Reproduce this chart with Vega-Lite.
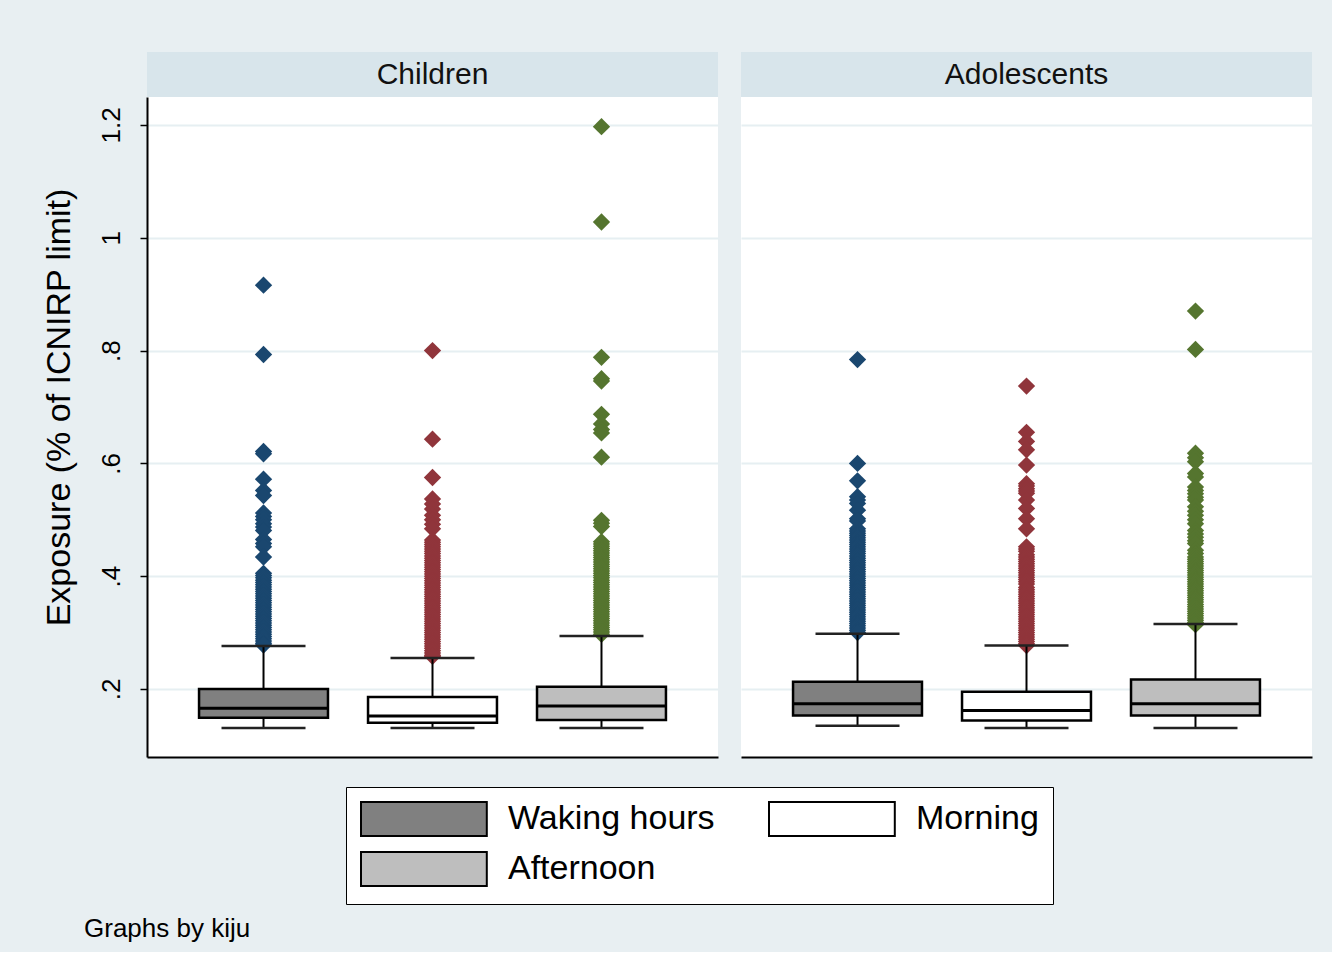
{
  "$schema": "https://vega.github.io/schema/vega-lite/v6.json",
  "background": "#e8eff2",
  "padding": {"left": 42, "top": 52, "right": 20, "bottom": 10},
  "title": {"text": "Graphs by kiju", "orient": "bottom", "anchor": "start", "fontSize": 26, "fontWeight": "normal", "font": "Liberation Sans", "color": "black", "offset": 11, "dx": 42},
  "datasets": {
    "panels": [{"panel": "Children"}, {"panel": "Adolescents"}],
    "stats": [
      {"panel": "Children", "group": "Waking hours", "lo": 0.131, "q1": 0.149, "median": 0.166, "q3": 0.200, "hi": 0.276},
      {"panel": "Children", "group": "Morning", "lo": 0.131, "q1": 0.140, "median": 0.152, "q3": 0.186, "hi": 0.255},
      {"panel": "Children", "group": "Afternoon", "lo": 0.131, "q1": 0.145, "median": 0.170, "q3": 0.204, "hi": 0.294},
      {"panel": "Adolescents", "group": "Waking hours", "lo": 0.135, "q1": 0.153, "median": 0.174, "q3": 0.213, "hi": 0.298},
      {"panel": "Adolescents", "group": "Morning", "lo": 0.131, "q1": 0.144, "median": 0.162, "q3": 0.195, "hi": 0.277},
      {"panel": "Adolescents", "group": "Afternoon", "lo": 0.131, "q1": 0.153, "median": 0.174, "q3": 0.217, "hi": 0.315}
    ],
    "outliers": [
      {"panel": "Children", "group": "Waking hours", "value": 0.916},
      {"panel": "Children", "group": "Waking hours", "value": 0.793},
      {"panel": "Children", "group": "Waking hours", "value": 0.621},
      {"panel": "Children", "group": "Waking hours", "value": 0.617},
      {"panel": "Children", "group": "Waking hours", "value": 0.572},
      {"panel": "Children", "group": "Waking hours", "value": 0.552},
      {"panel": "Children", "group": "Waking hours", "value": 0.543},
      {"panel": "Children", "group": "Waking hours", "value": 0.512},
      {"panel": "Children", "group": "Waking hours", "value": 0.506},
      {"panel": "Children", "group": "Waking hours", "value": 0.500},
      {"panel": "Children", "group": "Waking hours", "value": 0.493},
      {"panel": "Children", "group": "Waking hours", "value": 0.487},
      {"panel": "Children", "group": "Waking hours", "value": 0.481},
      {"panel": "Children", "group": "Waking hours", "value": 0.465},
      {"panel": "Children", "group": "Waking hours", "value": 0.458},
      {"panel": "Children", "group": "Waking hours", "value": 0.452},
      {"panel": "Children", "group": "Waking hours", "value": 0.434},
      {"panel": "Children", "group": "Waking hours", "value": 0.405},
      {"panel": "Children", "group": "Waking hours", "value": 0.401},
      {"panel": "Children", "group": "Waking hours", "value": 0.397},
      {"panel": "Children", "group": "Waking hours", "value": 0.393},
      {"panel": "Children", "group": "Waking hours", "value": 0.389},
      {"panel": "Children", "group": "Waking hours", "value": 0.385},
      {"panel": "Children", "group": "Waking hours", "value": 0.381},
      {"panel": "Children", "group": "Waking hours", "value": 0.377},
      {"panel": "Children", "group": "Waking hours", "value": 0.373},
      {"panel": "Children", "group": "Waking hours", "value": 0.369},
      {"panel": "Children", "group": "Waking hours", "value": 0.365},
      {"panel": "Children", "group": "Waking hours", "value": 0.361},
      {"panel": "Children", "group": "Waking hours", "value": 0.357},
      {"panel": "Children", "group": "Waking hours", "value": 0.353},
      {"panel": "Children", "group": "Waking hours", "value": 0.349},
      {"panel": "Children", "group": "Waking hours", "value": 0.345},
      {"panel": "Children", "group": "Waking hours", "value": 0.341},
      {"panel": "Children", "group": "Waking hours", "value": 0.337},
      {"panel": "Children", "group": "Waking hours", "value": 0.333},
      {"panel": "Children", "group": "Waking hours", "value": 0.329},
      {"panel": "Children", "group": "Waking hours", "value": 0.325},
      {"panel": "Children", "group": "Waking hours", "value": 0.321},
      {"panel": "Children", "group": "Waking hours", "value": 0.317},
      {"panel": "Children", "group": "Waking hours", "value": 0.313},
      {"panel": "Children", "group": "Waking hours", "value": 0.309},
      {"panel": "Children", "group": "Waking hours", "value": 0.305},
      {"panel": "Children", "group": "Waking hours", "value": 0.301},
      {"panel": "Children", "group": "Waking hours", "value": 0.297},
      {"panel": "Children", "group": "Waking hours", "value": 0.293},
      {"panel": "Children", "group": "Waking hours", "value": 0.289},
      {"panel": "Children", "group": "Waking hours", "value": 0.285},
      {"panel": "Children", "group": "Waking hours", "value": 0.281},
      {"panel": "Children", "group": "Waking hours", "value": 0.278},
      {"panel": "Children", "group": "Morning", "value": 0.800},
      {"panel": "Children", "group": "Morning", "value": 0.643},
      {"panel": "Children", "group": "Morning", "value": 0.575},
      {"panel": "Children", "group": "Morning", "value": 0.537},
      {"panel": "Children", "group": "Morning", "value": 0.528},
      {"panel": "Children", "group": "Morning", "value": 0.519},
      {"panel": "Children", "group": "Morning", "value": 0.508},
      {"panel": "Children", "group": "Morning", "value": 0.500},
      {"panel": "Children", "group": "Morning", "value": 0.492},
      {"panel": "Children", "group": "Morning", "value": 0.484},
      {"panel": "Children", "group": "Morning", "value": 0.464},
      {"panel": "Children", "group": "Morning", "value": 0.460},
      {"panel": "Children", "group": "Morning", "value": 0.456},
      {"panel": "Children", "group": "Morning", "value": 0.452},
      {"panel": "Children", "group": "Morning", "value": 0.448},
      {"panel": "Children", "group": "Morning", "value": 0.444},
      {"panel": "Children", "group": "Morning", "value": 0.440},
      {"panel": "Children", "group": "Morning", "value": 0.436},
      {"panel": "Children", "group": "Morning", "value": 0.432},
      {"panel": "Children", "group": "Morning", "value": 0.428},
      {"panel": "Children", "group": "Morning", "value": 0.424},
      {"panel": "Children", "group": "Morning", "value": 0.420},
      {"panel": "Children", "group": "Morning", "value": 0.416},
      {"panel": "Children", "group": "Morning", "value": 0.412},
      {"panel": "Children", "group": "Morning", "value": 0.408},
      {"panel": "Children", "group": "Morning", "value": 0.404},
      {"panel": "Children", "group": "Morning", "value": 0.400},
      {"panel": "Children", "group": "Morning", "value": 0.396},
      {"panel": "Children", "group": "Morning", "value": 0.392},
      {"panel": "Children", "group": "Morning", "value": 0.388},
      {"panel": "Children", "group": "Morning", "value": 0.384},
      {"panel": "Children", "group": "Morning", "value": 0.380},
      {"panel": "Children", "group": "Morning", "value": 0.376},
      {"panel": "Children", "group": "Morning", "value": 0.372},
      {"panel": "Children", "group": "Morning", "value": 0.368},
      {"panel": "Children", "group": "Morning", "value": 0.364},
      {"panel": "Children", "group": "Morning", "value": 0.360},
      {"panel": "Children", "group": "Morning", "value": 0.356},
      {"panel": "Children", "group": "Morning", "value": 0.352},
      {"panel": "Children", "group": "Morning", "value": 0.348},
      {"panel": "Children", "group": "Morning", "value": 0.344},
      {"panel": "Children", "group": "Morning", "value": 0.340},
      {"panel": "Children", "group": "Morning", "value": 0.336},
      {"panel": "Children", "group": "Morning", "value": 0.332},
      {"panel": "Children", "group": "Morning", "value": 0.328},
      {"panel": "Children", "group": "Morning", "value": 0.324},
      {"panel": "Children", "group": "Morning", "value": 0.320},
      {"panel": "Children", "group": "Morning", "value": 0.316},
      {"panel": "Children", "group": "Morning", "value": 0.312},
      {"panel": "Children", "group": "Morning", "value": 0.308},
      {"panel": "Children", "group": "Morning", "value": 0.304},
      {"panel": "Children", "group": "Morning", "value": 0.300},
      {"panel": "Children", "group": "Morning", "value": 0.296},
      {"panel": "Children", "group": "Morning", "value": 0.292},
      {"panel": "Children", "group": "Morning", "value": 0.288},
      {"panel": "Children", "group": "Morning", "value": 0.284},
      {"panel": "Children", "group": "Morning", "value": 0.280},
      {"panel": "Children", "group": "Morning", "value": 0.276},
      {"panel": "Children", "group": "Morning", "value": 0.272},
      {"panel": "Children", "group": "Morning", "value": 0.268},
      {"panel": "Children", "group": "Morning", "value": 0.264},
      {"panel": "Children", "group": "Morning", "value": 0.260},
      {"panel": "Children", "group": "Morning", "value": 0.258},
      {"panel": "Children", "group": "Afternoon", "value": 1.197},
      {"panel": "Children", "group": "Afternoon", "value": 1.028},
      {"panel": "Children", "group": "Afternoon", "value": 0.788},
      {"panel": "Children", "group": "Afternoon", "value": 0.750},
      {"panel": "Children", "group": "Afternoon", "value": 0.746},
      {"panel": "Children", "group": "Afternoon", "value": 0.687},
      {"panel": "Children", "group": "Afternoon", "value": 0.670},
      {"panel": "Children", "group": "Afternoon", "value": 0.660},
      {"panel": "Children", "group": "Afternoon", "value": 0.654},
      {"panel": "Children", "group": "Afternoon", "value": 0.611},
      {"panel": "Children", "group": "Afternoon", "value": 0.499},
      {"panel": "Children", "group": "Afternoon", "value": 0.494},
      {"panel": "Children", "group": "Afternoon", "value": 0.488},
      {"panel": "Children", "group": "Afternoon", "value": 0.461},
      {"panel": "Children", "group": "Afternoon", "value": 0.457},
      {"panel": "Children", "group": "Afternoon", "value": 0.453},
      {"panel": "Children", "group": "Afternoon", "value": 0.449},
      {"panel": "Children", "group": "Afternoon", "value": 0.445},
      {"panel": "Children", "group": "Afternoon", "value": 0.441},
      {"panel": "Children", "group": "Afternoon", "value": 0.437},
      {"panel": "Children", "group": "Afternoon", "value": 0.433},
      {"panel": "Children", "group": "Afternoon", "value": 0.429},
      {"panel": "Children", "group": "Afternoon", "value": 0.425},
      {"panel": "Children", "group": "Afternoon", "value": 0.421},
      {"panel": "Children", "group": "Afternoon", "value": 0.417},
      {"panel": "Children", "group": "Afternoon", "value": 0.413},
      {"panel": "Children", "group": "Afternoon", "value": 0.409},
      {"panel": "Children", "group": "Afternoon", "value": 0.405},
      {"panel": "Children", "group": "Afternoon", "value": 0.401},
      {"panel": "Children", "group": "Afternoon", "value": 0.397},
      {"panel": "Children", "group": "Afternoon", "value": 0.393},
      {"panel": "Children", "group": "Afternoon", "value": 0.389},
      {"panel": "Children", "group": "Afternoon", "value": 0.385},
      {"panel": "Children", "group": "Afternoon", "value": 0.381},
      {"panel": "Children", "group": "Afternoon", "value": 0.377},
      {"panel": "Children", "group": "Afternoon", "value": 0.373},
      {"panel": "Children", "group": "Afternoon", "value": 0.369},
      {"panel": "Children", "group": "Afternoon", "value": 0.365},
      {"panel": "Children", "group": "Afternoon", "value": 0.361},
      {"panel": "Children", "group": "Afternoon", "value": 0.357},
      {"panel": "Children", "group": "Afternoon", "value": 0.353},
      {"panel": "Children", "group": "Afternoon", "value": 0.349},
      {"panel": "Children", "group": "Afternoon", "value": 0.345},
      {"panel": "Children", "group": "Afternoon", "value": 0.341},
      {"panel": "Children", "group": "Afternoon", "value": 0.337},
      {"panel": "Children", "group": "Afternoon", "value": 0.333},
      {"panel": "Children", "group": "Afternoon", "value": 0.329},
      {"panel": "Children", "group": "Afternoon", "value": 0.325},
      {"panel": "Children", "group": "Afternoon", "value": 0.321},
      {"panel": "Children", "group": "Afternoon", "value": 0.317},
      {"panel": "Children", "group": "Afternoon", "value": 0.313},
      {"panel": "Children", "group": "Afternoon", "value": 0.309},
      {"panel": "Children", "group": "Afternoon", "value": 0.305},
      {"panel": "Children", "group": "Afternoon", "value": 0.301},
      {"panel": "Children", "group": "Afternoon", "value": 0.297},
      {"panel": "Adolescents", "group": "Waking hours", "value": 0.784},
      {"panel": "Adolescents", "group": "Waking hours", "value": 0.600},
      {"panel": "Adolescents", "group": "Waking hours", "value": 0.569},
      {"panel": "Adolescents", "group": "Waking hours", "value": 0.541},
      {"panel": "Adolescents", "group": "Waking hours", "value": 0.535},
      {"panel": "Adolescents", "group": "Waking hours", "value": 0.529},
      {"panel": "Adolescents", "group": "Waking hours", "value": 0.517},
      {"panel": "Adolescents", "group": "Waking hours", "value": 0.502},
      {"panel": "Adolescents", "group": "Waking hours", "value": 0.498},
      {"panel": "Adolescents", "group": "Waking hours", "value": 0.484},
      {"panel": "Adolescents", "group": "Waking hours", "value": 0.480},
      {"panel": "Adolescents", "group": "Waking hours", "value": 0.476},
      {"panel": "Adolescents", "group": "Waking hours", "value": 0.472},
      {"panel": "Adolescents", "group": "Waking hours", "value": 0.468},
      {"panel": "Adolescents", "group": "Waking hours", "value": 0.464},
      {"panel": "Adolescents", "group": "Waking hours", "value": 0.460},
      {"panel": "Adolescents", "group": "Waking hours", "value": 0.456},
      {"panel": "Adolescents", "group": "Waking hours", "value": 0.452},
      {"panel": "Adolescents", "group": "Waking hours", "value": 0.448},
      {"panel": "Adolescents", "group": "Waking hours", "value": 0.444},
      {"panel": "Adolescents", "group": "Waking hours", "value": 0.440},
      {"panel": "Adolescents", "group": "Waking hours", "value": 0.436},
      {"panel": "Adolescents", "group": "Waking hours", "value": 0.432},
      {"panel": "Adolescents", "group": "Waking hours", "value": 0.428},
      {"panel": "Adolescents", "group": "Waking hours", "value": 0.424},
      {"panel": "Adolescents", "group": "Waking hours", "value": 0.420},
      {"panel": "Adolescents", "group": "Waking hours", "value": 0.416},
      {"panel": "Adolescents", "group": "Waking hours", "value": 0.412},
      {"panel": "Adolescents", "group": "Waking hours", "value": 0.408},
      {"panel": "Adolescents", "group": "Waking hours", "value": 0.404},
      {"panel": "Adolescents", "group": "Waking hours", "value": 0.400},
      {"panel": "Adolescents", "group": "Waking hours", "value": 0.396},
      {"panel": "Adolescents", "group": "Waking hours", "value": 0.392},
      {"panel": "Adolescents", "group": "Waking hours", "value": 0.388},
      {"panel": "Adolescents", "group": "Waking hours", "value": 0.384},
      {"panel": "Adolescents", "group": "Waking hours", "value": 0.380},
      {"panel": "Adolescents", "group": "Waking hours", "value": 0.376},
      {"panel": "Adolescents", "group": "Waking hours", "value": 0.372},
      {"panel": "Adolescents", "group": "Waking hours", "value": 0.368},
      {"panel": "Adolescents", "group": "Waking hours", "value": 0.364},
      {"panel": "Adolescents", "group": "Waking hours", "value": 0.360},
      {"panel": "Adolescents", "group": "Waking hours", "value": 0.356},
      {"panel": "Adolescents", "group": "Waking hours", "value": 0.352},
      {"panel": "Adolescents", "group": "Waking hours", "value": 0.348},
      {"panel": "Adolescents", "group": "Waking hours", "value": 0.344},
      {"panel": "Adolescents", "group": "Waking hours", "value": 0.340},
      {"panel": "Adolescents", "group": "Waking hours", "value": 0.336},
      {"panel": "Adolescents", "group": "Waking hours", "value": 0.332},
      {"panel": "Adolescents", "group": "Waking hours", "value": 0.328},
      {"panel": "Adolescents", "group": "Waking hours", "value": 0.324},
      {"panel": "Adolescents", "group": "Waking hours", "value": 0.320},
      {"panel": "Adolescents", "group": "Waking hours", "value": 0.316},
      {"panel": "Adolescents", "group": "Waking hours", "value": 0.312},
      {"panel": "Adolescents", "group": "Waking hours", "value": 0.308},
      {"panel": "Adolescents", "group": "Waking hours", "value": 0.304},
      {"panel": "Adolescents", "group": "Waking hours", "value": 0.300},
      {"panel": "Adolescents", "group": "Morning", "value": 0.737},
      {"panel": "Adolescents", "group": "Morning", "value": 0.655},
      {"panel": "Adolescents", "group": "Morning", "value": 0.639},
      {"panel": "Adolescents", "group": "Morning", "value": 0.624},
      {"panel": "Adolescents", "group": "Morning", "value": 0.597},
      {"panel": "Adolescents", "group": "Morning", "value": 0.564},
      {"panel": "Adolescents", "group": "Morning", "value": 0.560},
      {"panel": "Adolescents", "group": "Morning", "value": 0.555},
      {"panel": "Adolescents", "group": "Morning", "value": 0.551},
      {"panel": "Adolescents", "group": "Morning", "value": 0.547},
      {"panel": "Adolescents", "group": "Morning", "value": 0.535},
      {"panel": "Adolescents", "group": "Morning", "value": 0.520},
      {"panel": "Adolescents", "group": "Morning", "value": 0.502},
      {"panel": "Adolescents", "group": "Morning", "value": 0.484},
      {"panel": "Adolescents", "group": "Morning", "value": 0.452},
      {"panel": "Adolescents", "group": "Morning", "value": 0.448},
      {"panel": "Adolescents", "group": "Morning", "value": 0.444},
      {"panel": "Adolescents", "group": "Morning", "value": 0.438},
      {"panel": "Adolescents", "group": "Morning", "value": 0.434},
      {"panel": "Adolescents", "group": "Morning", "value": 0.430},
      {"panel": "Adolescents", "group": "Morning", "value": 0.426},
      {"panel": "Adolescents", "group": "Morning", "value": 0.422},
      {"panel": "Adolescents", "group": "Morning", "value": 0.418},
      {"panel": "Adolescents", "group": "Morning", "value": 0.414},
      {"panel": "Adolescents", "group": "Morning", "value": 0.410},
      {"panel": "Adolescents", "group": "Morning", "value": 0.406},
      {"panel": "Adolescents", "group": "Morning", "value": 0.402},
      {"panel": "Adolescents", "group": "Morning", "value": 0.398},
      {"panel": "Adolescents", "group": "Morning", "value": 0.394},
      {"panel": "Adolescents", "group": "Morning", "value": 0.390},
      {"panel": "Adolescents", "group": "Morning", "value": 0.386},
      {"panel": "Adolescents", "group": "Morning", "value": 0.380},
      {"panel": "Adolescents", "group": "Morning", "value": 0.376},
      {"panel": "Adolescents", "group": "Morning", "value": 0.372},
      {"panel": "Adolescents", "group": "Morning", "value": 0.368},
      {"panel": "Adolescents", "group": "Morning", "value": 0.364},
      {"panel": "Adolescents", "group": "Morning", "value": 0.360},
      {"panel": "Adolescents", "group": "Morning", "value": 0.356},
      {"panel": "Adolescents", "group": "Morning", "value": 0.352},
      {"panel": "Adolescents", "group": "Morning", "value": 0.348},
      {"panel": "Adolescents", "group": "Morning", "value": 0.344},
      {"panel": "Adolescents", "group": "Morning", "value": 0.340},
      {"panel": "Adolescents", "group": "Morning", "value": 0.336},
      {"panel": "Adolescents", "group": "Morning", "value": 0.332},
      {"panel": "Adolescents", "group": "Morning", "value": 0.328},
      {"panel": "Adolescents", "group": "Morning", "value": 0.324},
      {"panel": "Adolescents", "group": "Morning", "value": 0.320},
      {"panel": "Adolescents", "group": "Morning", "value": 0.316},
      {"panel": "Adolescents", "group": "Morning", "value": 0.312},
      {"panel": "Adolescents", "group": "Morning", "value": 0.308},
      {"panel": "Adolescents", "group": "Morning", "value": 0.304},
      {"panel": "Adolescents", "group": "Morning", "value": 0.300},
      {"panel": "Adolescents", "group": "Morning", "value": 0.296},
      {"panel": "Adolescents", "group": "Morning", "value": 0.292},
      {"panel": "Adolescents", "group": "Morning", "value": 0.288},
      {"panel": "Adolescents", "group": "Morning", "value": 0.284},
      {"panel": "Adolescents", "group": "Morning", "value": 0.280},
      {"panel": "Adolescents", "group": "Morning", "value": 0.277},
      {"panel": "Adolescents", "group": "Afternoon", "value": 0.870},
      {"panel": "Adolescents", "group": "Afternoon", "value": 0.802},
      {"panel": "Adolescents", "group": "Afternoon", "value": 0.618},
      {"panel": "Adolescents", "group": "Afternoon", "value": 0.610},
      {"panel": "Adolescents", "group": "Afternoon", "value": 0.603},
      {"panel": "Adolescents", "group": "Afternoon", "value": 0.582},
      {"panel": "Adolescents", "group": "Afternoon", "value": 0.576},
      {"panel": "Adolescents", "group": "Afternoon", "value": 0.558},
      {"panel": "Adolescents", "group": "Afternoon", "value": 0.552},
      {"panel": "Adolescents", "group": "Afternoon", "value": 0.546},
      {"panel": "Adolescents", "group": "Afternoon", "value": 0.540},
      {"panel": "Adolescents", "group": "Afternoon", "value": 0.535},
      {"panel": "Adolescents", "group": "Afternoon", "value": 0.523},
      {"panel": "Adolescents", "group": "Afternoon", "value": 0.515},
      {"panel": "Adolescents", "group": "Afternoon", "value": 0.508},
      {"panel": "Adolescents", "group": "Afternoon", "value": 0.500},
      {"panel": "Adolescents", "group": "Afternoon", "value": 0.493},
      {"panel": "Adolescents", "group": "Afternoon", "value": 0.481},
      {"panel": "Adolescents", "group": "Afternoon", "value": 0.475},
      {"panel": "Adolescents", "group": "Afternoon", "value": 0.469},
      {"panel": "Adolescents", "group": "Afternoon", "value": 0.463},
      {"panel": "Adolescents", "group": "Afternoon", "value": 0.458},
      {"panel": "Adolescents", "group": "Afternoon", "value": 0.446},
      {"panel": "Adolescents", "group": "Afternoon", "value": 0.440},
      {"panel": "Adolescents", "group": "Afternoon", "value": 0.434},
      {"panel": "Adolescents", "group": "Afternoon", "value": 0.430},
      {"panel": "Adolescents", "group": "Afternoon", "value": 0.426},
      {"panel": "Adolescents", "group": "Afternoon", "value": 0.422},
      {"panel": "Adolescents", "group": "Afternoon", "value": 0.418},
      {"panel": "Adolescents", "group": "Afternoon", "value": 0.414},
      {"panel": "Adolescents", "group": "Afternoon", "value": 0.410},
      {"panel": "Adolescents", "group": "Afternoon", "value": 0.406},
      {"panel": "Adolescents", "group": "Afternoon", "value": 0.402},
      {"panel": "Adolescents", "group": "Afternoon", "value": 0.398},
      {"panel": "Adolescents", "group": "Afternoon", "value": 0.394},
      {"panel": "Adolescents", "group": "Afternoon", "value": 0.390},
      {"panel": "Adolescents", "group": "Afternoon", "value": 0.386},
      {"panel": "Adolescents", "group": "Afternoon", "value": 0.382},
      {"panel": "Adolescents", "group": "Afternoon", "value": 0.378},
      {"panel": "Adolescents", "group": "Afternoon", "value": 0.374},
      {"panel": "Adolescents", "group": "Afternoon", "value": 0.370},
      {"panel": "Adolescents", "group": "Afternoon", "value": 0.366},
      {"panel": "Adolescents", "group": "Afternoon", "value": 0.362},
      {"panel": "Adolescents", "group": "Afternoon", "value": 0.358},
      {"panel": "Adolescents", "group": "Afternoon", "value": 0.354},
      {"panel": "Adolescents", "group": "Afternoon", "value": 0.350},
      {"panel": "Adolescents", "group": "Afternoon", "value": 0.346},
      {"panel": "Adolescents", "group": "Afternoon", "value": 0.342},
      {"panel": "Adolescents", "group": "Afternoon", "value": 0.338},
      {"panel": "Adolescents", "group": "Afternoon", "value": 0.334},
      {"panel": "Adolescents", "group": "Afternoon", "value": 0.330},
      {"panel": "Adolescents", "group": "Afternoon", "value": 0.326},
      {"panel": "Adolescents", "group": "Afternoon", "value": 0.322},
      {"panel": "Adolescents", "group": "Afternoon", "value": 0.318},
      {"panel": "Adolescents", "group": "Afternoon", "value": 0.314}
    ]
  },
  "spacing": 23,
  "hconcat": [
    {
      "spacing": 0,
      "vconcat": [
        {
          "width": 571, "height": 45,
          "view": {"fill": "#d8e5eb", "stroke": null},
          "data": {"name": "panels"},
          "transform": [{"filter": "datum.panel === 'Children'"}],
          "mark": {"type": "text", "fontSize": 30, "font": "Liberation Sans", "color": "#111111"},
          "encoding": {"text": {"field": "panel", "type": "nominal"}}
        },
        {
          "width": 571, "height": 660,
          "view": {"fill": "white", "stroke": null},
          "encoding": {
            "x": {"field": "group", "type": "nominal", "title": null,
                  "scale": {"domain": ["Waking hours", "Morning", "Afternoon"], "paddingInner": 0.237, "paddingOuter": 0.308},
                  "axis": {"labels": false, "ticks": false, "title": null, "domain": true, "domainColor": "black", "domainWidth": 2, "grid": false}}
          },
          "layer": [
            {
              "data": {"name": "outliers"},
              "transform": [{"filter": "datum.panel === 'Children'"}],
              "mark": {"type": "point", "shape": "diamond", "filled": true, "size": 300, "opacity": 1, "strokeWidth": 0},
              "encoding": {
                "y": {"field": "value", "type": "quantitative", "title": "Exposure (% of ICNIRP limit)",
                      "scale": {"domain": [0.0794, 1.2496], "nice": false, "zero": false},
                      "axis": {"values": [0.2, 0.4, 0.6, 0.8, 1, 1.2], "labelAngle": -90, "labelFontSize": 26, "labelPadding": 16, "tickSize": 7, "tickWidth": 1.5, "domainWidth": 2, "titleFontSize": 34, "titlePadding": 22, "titleY": 310, "grid": true,
                               "labelExpr": "datum.value < 1 ? replace(format(datum.value, '.1f'), '0.', '.') : format(datum.value, '~g')"}},
                "fill": {"condition": [{"test": "datum.group === 'Waking hours'", "value": "#1a476f"}, {"test": "datum.group === 'Morning'", "value": "#90353b"}], "value": "#55752f"}
              }
            },
            {
              "data": {"name": "stats"},
              "transform": [{"filter": "datum.panel === 'Children'"}],
              "mark": {"type": "rule", "color": "black", "strokeWidth": 2},
              "encoding": {
                "y": {"field": "lo", "type": "quantitative", "title": "Exposure (% of ICNIRP limit)"},
                "y2": {"field": "hi"}
              }
            },
            {
              "data": {"name": "stats"},
              "transform": [{"filter": "datum.panel === 'Children'"}],
              "mark": {"type": "bar", "stroke": "black", "strokeWidth": 2.5, "opacity": 1},
              "encoding": {
                "y": {"field": "q1", "type": "quantitative", "title": "Exposure (% of ICNIRP limit)"},
                "y2": {"field": "q3"},
                "color": {"field": "group", "type": "nominal", "title": null,
                          "scale": {"domain": ["Waking hours", "Morning", "Afternoon"], "range": ["#808080", "#ffffff", "#bebebe"]},
                          "legend": {"orient": "none", "legendX": 199, "legendY": 735, "columns": 2, "title": null,
                                     "values": ["Waking hours", "Afternoon", "Morning"],
                                     "symbolType": "M-1,-1L6.4,-1L6.4,1L-1,1Z", "symbolSize": 1156, "symbolStrokeColor": "black", "symbolStrokeWidth": 2,
                                     "labelFontSize": 34, "labelOffset": 112, "labelLimit": 500, "columnPadding": 50, "rowPadding": 8, "padding": 14,
                                     "strokeColor": "black", "fillColor": "white"}}
              }
            },
            {
              "data": {"name": "stats"},
              "transform": [{"filter": "datum.panel === 'Children'"}],
              "mark": {"type": "tick", "color": "black", "size": 128, "thickness": 3, "opacity": 1},
              "encoding": {"y": {"field": "median", "type": "quantitative", "title": "Exposure (% of ICNIRP limit)"}}
            },
            {
              "data": {"name": "stats"},
              "transform": [{"filter": "datum.panel === 'Children'"}],
              "mark": {"type": "tick", "color": "#222222", "size": 84, "thickness": 2.5, "opacity": 1},
              "encoding": {"y": {"field": "lo", "type": "quantitative", "title": "Exposure (% of ICNIRP limit)"}}
            },
            {
              "data": {"name": "stats"},
              "transform": [{"filter": "datum.panel === 'Children'"}],
              "mark": {"type": "tick", "color": "#222222", "size": 84, "thickness": 2.5, "opacity": 1},
              "encoding": {"y": {"field": "hi", "type": "quantitative", "title": "Exposure (% of ICNIRP limit)"}}
            }
          ]
        }
      ]
    },
    {
      "spacing": 0,
      "vconcat": [
        {
          "width": 571, "height": 45,
          "view": {"fill": "#d8e5eb", "stroke": null},
          "data": {"name": "panels"},
          "transform": [{"filter": "datum.panel === 'Adolescents'"}],
          "mark": {"type": "text", "fontSize": 30, "font": "Liberation Sans", "color": "#111111"},
          "encoding": {"text": {"field": "panel", "type": "nominal"}}
        },
        {
          "width": 571, "height": 660,
          "view": {"fill": "white", "stroke": null},
          "encoding": {
            "x": {"field": "group", "type": "nominal", "title": null,
                  "scale": {"domain": ["Waking hours", "Morning", "Afternoon"], "paddingInner": 0.237, "paddingOuter": 0.308},
                  "axis": {"labels": false, "ticks": false, "title": null, "domain": true, "domainColor": "black", "domainWidth": 2, "grid": false}}
          },
          "layer": [
            {
              "data": {"name": "outliers"},
              "transform": [{"filter": "datum.panel === 'Adolescents'"}],
              "mark": {"type": "point", "shape": "diamond", "filled": true, "size": 300, "opacity": 1, "strokeWidth": 0},
              "encoding": {
                "y": {"field": "value", "type": "quantitative", "title": null,
                      "scale": {"domain": [0.0794, 1.2496], "nice": false, "zero": false},
                      "axis": {"values": [0.2, 0.4, 0.6, 0.8, 1, 1.2], "labels": false, "ticks": false, "domain": false, "title": null, "grid": true}},
                "fill": {"condition": [{"test": "datum.group === 'Waking hours'", "value": "#1a476f"}, {"test": "datum.group === 'Morning'", "value": "#90353b"}], "value": "#55752f"}
              }
            },
            {
              "data": {"name": "stats"},
              "transform": [{"filter": "datum.panel === 'Adolescents'"}],
              "mark": {"type": "rule", "color": "black", "strokeWidth": 2},
              "encoding": {
                "y": {"field": "lo", "type": "quantitative", "title": null},
                "y2": {"field": "hi"}
              }
            },
            {
              "data": {"name": "stats"},
              "transform": [{"filter": "datum.panel === 'Adolescents'"}],
              "mark": {"type": "bar", "stroke": "black", "strokeWidth": 2.5, "opacity": 1},
              "encoding": {
                "y": {"field": "q1", "type": "quantitative", "title": null},
                "y2": {"field": "q3"},
                "color": {"field": "group", "type": "nominal", "title": null,
                          "scale": {"domain": ["Waking hours", "Morning", "Afternoon"], "range": ["#808080", "#ffffff", "#bebebe"]},
                          "legend": {"orient": "none", "legendX": 199, "legendY": 735, "columns": 2, "title": null,
                                     "values": ["Waking hours", "Afternoon", "Morning"],
                                     "symbolType": "M-1,-1L6.4,-1L6.4,1L-1,1Z", "symbolSize": 1156, "symbolStrokeColor": "black", "symbolStrokeWidth": 2,
                                     "labelFontSize": 34, "labelOffset": 112, "labelLimit": 500, "columnPadding": 50, "rowPadding": 8, "padding": 14,
                                     "strokeColor": "black", "fillColor": "white"}}
              }
            },
            {
              "data": {"name": "stats"},
              "transform": [{"filter": "datum.panel === 'Adolescents'"}],
              "mark": {"type": "tick", "color": "black", "size": 128, "thickness": 3, "opacity": 1},
              "encoding": {"y": {"field": "median", "type": "quantitative", "title": null}}
            },
            {
              "data": {"name": "stats"},
              "transform": [{"filter": "datum.panel === 'Adolescents'"}],
              "mark": {"type": "tick", "color": "#222222", "size": 84, "thickness": 2.5, "opacity": 1},
              "encoding": {"y": {"field": "lo", "type": "quantitative", "title": null}}
            },
            {
              "data": {"name": "stats"},
              "transform": [{"filter": "datum.panel === 'Adolescents'"}],
              "mark": {"type": "tick", "color": "#222222", "size": 84, "thickness": 2.5, "opacity": 1},
              "encoding": {"y": {"field": "hi", "type": "quantitative", "title": null}}
            }
          ]
        }
      ]
    }
  ],
  "resolve": {"scale": {"color": "shared"}, "legend": {"color": "shared"}},
  "config": {
    "font": "Liberation Sans",
    "view": {"stroke": null},
    "axis": {"domainColor": "black", "tickColor": "black", "labelColor": "black", "titleColor": "black", "gridColor": "#e6eff2", "gridWidth": 2, "titleFontWeight": "normal", "labelFont": "Liberation Sans", "titleFont": "Liberation Sans"},
    "legend": {"labelFont": "Liberation Sans", "labelColor": "black", "symbolOpacity": 1}
  }
}
